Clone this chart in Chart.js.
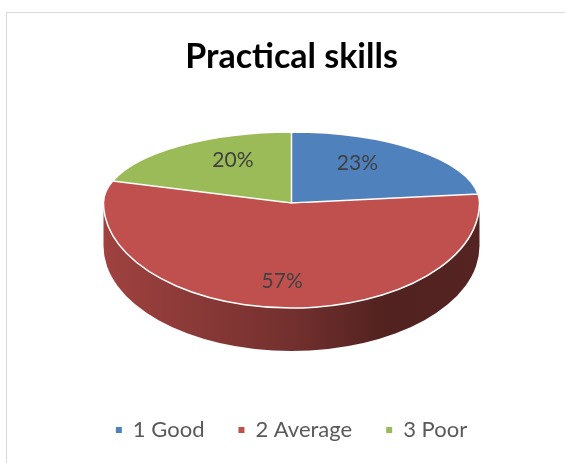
<!DOCTYPE html>
<html><head><meta charset="utf-8">
<script src="https://cdn.jsdelivr.net/npm/chart.js@4.4.1/dist/chart.umd.min.js"></script>
<style>
html,body{margin:0;padding:0;background:#fff;overflow:hidden;width:565px;height:463px;}
#frame{position:absolute;left:6px;top:12px;width:620px;height:520px;border:1px solid #d9d9d9;box-sizing:border-box;}
#wrap{position:absolute;left:0;top:0;width:565px;height:463px;}
</style></head><body>
<div id="frame"></div>
<div id="wrap"><canvas id="c" width="565" height="463"></canvas></div>
<script>
// ---- data ----
const categories = ['1 Good', '2 Average', '3 Poor'];
const values = [23, 57, 20];
const chartTitle = 'Practical skills';

// ---- 3D tilted pie plugin (draws the library's arc elements under a perspective-like transform) ----
const pie3d = {
  id: 'pie3d',
  beforeDatasetsDraw(chart, args, o) {
    const ctx = chart.ctx;
    const meta = chart.getDatasetMeta(0);
    const arcs = meta.data;
    if (!arcs.length) return;
    const {x, y, outerRadius: R} = arcs[0].getProps(['x', 'y', 'outerRadius'], true);
    const cx = x, cy = Math.round(y + o.offsetY);
    const sx = o.radiusX / R, syT = o.radiusYTop / R, syB = o.radiusYBottom / R;
    const W = chart.width, H = chart.height;
    const shade = (hex, f) => {
      const n = parseInt(hex.slice(1), 16);
      const r = (n >> 16) & 255, g = (n >> 8) & 255, b = n & 255;
      return `rgb(${Math.round(r * f)},${Math.round(g * f)},${Math.round(b * f)})`;
    };
    // extruded side (front half only)
    ctx.save();
    ctx.translate(cx, cy); ctx.scale(sx, syB); ctx.translate(-x, -y);
    const dA = o.depth / syB;
    arcs.forEach(arc => {
      const {startAngle: s, endAngle: e} = arc.getProps(['startAngle', 'endAngle'], true);
      const col = arc.options.backgroundColor;
      for (let k = -1; k <= 1; k++) {
        const lo = Math.max(s, 2 * Math.PI * k), hi = Math.min(e, 2 * Math.PI * k + Math.PI);
        if (hi <= lo) continue;
        const g = ctx.createLinearGradient(x - R, 0, x + R, 0);
        o.sideShades.forEach(([p, f]) => g.addColorStop(p, shade(col, f)));
        ctx.beginPath();
        ctx.arc(x, y, R, lo, hi);
        ctx.arc(x, y + dA, R, hi, lo, true);
        ctx.closePath();
        ctx.fillStyle = g; ctx.fill();
      }
    });
    ctx.restore();
    // top face: back half and front half with different vertical squash
    [[0, cy, syT], [cy, H, syB]].forEach(([y0, y1, sy]) => {
      ctx.save();
      ctx.beginPath(); ctx.rect(0, y0, W, y1 - y0); ctx.clip();
      ctx.save();
      ctx.translate(cx, cy); ctx.scale(sx, sy); ctx.translate(-x, -y);
      arcs.forEach(arc => arc.draw(ctx));
      ctx.beginPath();
      arcs.forEach(arc => {
        const {startAngle: s, endAngle: e} = arc.getProps(['startAngle', 'endAngle'], true);
        ctx.moveTo(x, y); ctx.arc(x, y, R, s, e); ctx.closePath();
      });
      ctx.restore();
      ctx.strokeStyle = o.borderColor; ctx.lineWidth = o.borderWidth; ctx.lineJoin = 'round';
      ctx.stroke();
      ctx.restore();
    });
    // percentage labels
    const data = chart.data.datasets[0].data;
    const total = data.reduce((a, b) => a + b, 0);
    ctx.save();
    ctx.font = o.labelFont; ctx.fillStyle = o.labelColor;
    ctx.textAlign = 'center'; ctx.textBaseline = 'middle';
    arcs.forEach((arc, i) => {
      const {startAngle: s, endAngle: e} = arc.getProps(['startAngle', 'endAngle'], true);
      const m = (s + e) / 2;
      const px = Math.cos(m) * R * o.labelRadiusX, py = Math.sin(m) * R * o.labelRadiusY;
      const X = cx + px * sx, Y = cy + py * (py < 0 ? syT : syB);
      ctx.fillText(Math.round(data[i] / total * 100) + '%', X, Y);
    });
    ctx.restore();
    return false;
  }
};

new Chart(document.getElementById('c'), {
  type: 'pie',
  data: {
    labels: categories,
    datasets: [{
      data: values,
      backgroundColor: ['#4f81bd', '#c0504d', '#9bbb59'],
      borderWidth: 0
    }]
  },
  options: {
    responsive: false,
    animation: false,
    events: [],
    layout: {padding: {left: 18, right: 0, top: 37, bottom: 12}},
    plugins: {
      title: {
        display: true, text: chartTitle, color: '#000000',
        font: {family: 'Lato', size: 34, weight: 'bold'},
        padding: {top: 0, bottom: 20}
      },
      legend: {
        position: 'bottom',
        labels: {
          boxWidth: 6, boxHeight: 6, color: '#595959', padding: 34,
          font: {family: 'Lato', size: 22}
        }
      },
      tooltip: {enabled: false},
      pie3d: {
        offsetY: -38, radiusX: 188, radiusYTop: 71, radiusYBottom: 105, depth: 43,
        sideShades: [[0, 0.83], [0.5, 0.6], [0.75, 0.42], [1, 0.44]],
        borderColor: '#ffffff', borderWidth: 1.5,
        labelFont: '21px Lato', labelColor: '#404040', labelRadiusX: 0.53, labelRadiusY: 0.75
      }
    }
  },
  plugins: [pie3d]
});
</script>
</body></html>
